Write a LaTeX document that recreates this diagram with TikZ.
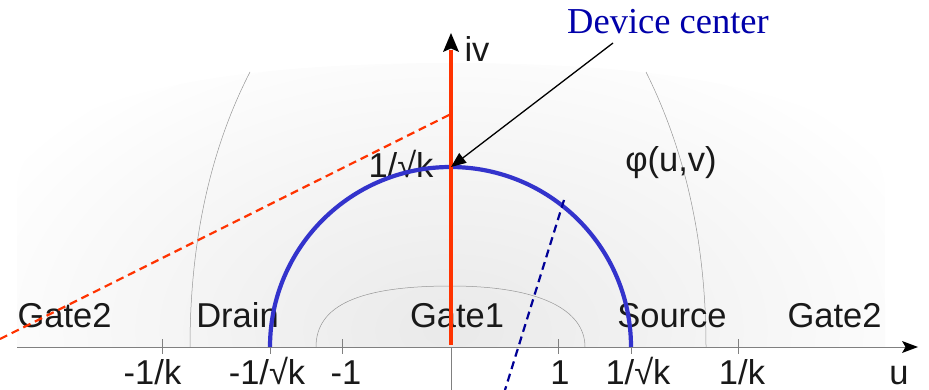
\documentclass[tikz,border=0pt]{standalone}
\usepackage{fontspec}
\setmainfont{Liberation Sans}
\newfontfamily\devfont{Liberation Serif}
\usetikzlibrary{arrows.meta}
\definecolor{axred}{RGB}{255,51,0}
\definecolor{curveblue}{RGB}{51,51,204}
\definecolor{navyblue}{RGB}{0,0,150}
\definecolor{devblue}{RGB}{0,0,170}
\definecolor{axgray}{RGB}{128,128,128}
\definecolor{contourgray}{RGB}{150,150,150}
\definecolor{txt}{RGB}{25,25,25}
\begin{document}
\begin{tikzpicture}[x=1pt,y=-1pt,
  lbl/.style={font=\fontsize{34.5}{40}\selectfont, text=txt, inner sep=0pt, anchor=base},
  ticklbl/.style={lbl},
  tickmark/.style={draw=axgray, line width=0.8pt},
  contourline/.style={draw=contourgray, line width=0.5pt},
  reddash/.style={draw=axred, line width=2.2pt, dash pattern=on 8pt off 5pt},
  bluedash/.style={draw=navyblue, line width=2.2pt, dash pattern=on 8pt off 5pt},
  thickblue/.style={draw=curveblue, line width=4.2pt},
  thickred/.style={draw=axred, line width=4.2pt},
]
\useasboundingbox (0,0) rectangle (929,390);
% background shading
\begin{scope}
  \clip (17,347) -- (17,190) .. controls (17,110) and (170,63) .. (451,63)
        .. controls (730,63) and (885,110) .. (885,190) -- (885,347) -- cycle;
  \shade[inner color=gray!17, outer color=white] (451,330) ellipse [x radius=520, y radius=320];
\end{scope}
% contours
\draw[contourline] (250,72) .. controls (215,140) and (190,230) .. (190,347);
\draw[contourline] (646,72) .. controls (680,140) and (706,230) .. (706,347);
\draw[contourline] (316,347) .. controls (316,305) and (360,286) .. (451,286)
                   .. controls (540,286) and (585,310) .. (585,347);
% coordinates
\coordinate (uL) at (17,347);
\coordinate (uE) at (905,347);
\coordinate (uT) at (918,347);
\coordinate (vB) at (451,345);
\coordinate (vE) at (451,50);
\coordinate (vT) at (451,33);
\coordinate (O) at (451,347);
\coordinate (Obot) at (451,390);
\coordinate (top) at (451,167);
\coordinate (rdA) at (0,339);
\coordinate (rdB) at (451,114);
\coordinate (bdA) at (564,200);
\coordinate (bdB) at (505,390);
\coordinate (dcA) at (613,43);
% labels
\node[lbl] (g2l) at (64.5,327) {Gate2};
\node[lbl] (drain) at (237.5,327) {Drain};
\node[lbl] (gate1) at (457,327) {Gate1};
\node[lbl] (source) at (672,327) {Source};
\node[lbl] (g2r) at (834.5,327) {Gate2};
\node[ticklbl] (t1) at (152.5,384) {-1/k};
\node[ticklbl] (t2) at (267,384) {-1/\char"221A k};
\node[ticklbl] (t3) at (346,384) {-1};
\node[ticklbl] (t4) at (560,384) {1};
\node[ticklbl] (t5) at (638,384) {1/\char"221A k};
\node[ticklbl] (t6) at (742,384) {1/k};
\node[ticklbl] (ulab) at (899,384) {u};
\node[lbl] (ivlab) at (477,62) {iv};
\node[lbl] (sqk) at (401,178) {1/\char"221A k};
\node[lbl] (phi) at (671,172) {φ(u,v)};
\node[font=\devfont\fontsize{36.5}{40}\selectfont, text=devblue, inner sep=0pt, anchor=base] (dc) at (668,34) {Device center};
% red dashed
\draw[reddash] (rdA) -- (rdB);
% axes
\draw[draw=axgray, line width=1pt] (uL) -- (uE);
\draw[draw=axgray, line width=0.8pt] (O) -- (Obot);
\fill[black] (uT) -- (902,341) -- (905.5,347) -- (902,353) -- cycle;
\foreach \x in {162,270,342,558,631,738} {
  \draw[tickmark] (\x,339) -- (\x,354);
}
% blue curve
\draw[thickblue] (270,347) arc[start angle=180, end angle=360, x radius=180.5, y radius=180];
% red axis
\draw[thickred] (vB) -- (vE);
\fill[black] (vT) -- (443,52) -- (451,48.5) -- (459,52) -- cycle;
% blue dashed
\draw[bluedash] (bdA) -- (bdB);
% pointer
\draw[line width=1.3pt, -{Triangle[length=15pt,width=12pt]}] (dcA) -- (top);
\end{tikzpicture}
\end{document}
